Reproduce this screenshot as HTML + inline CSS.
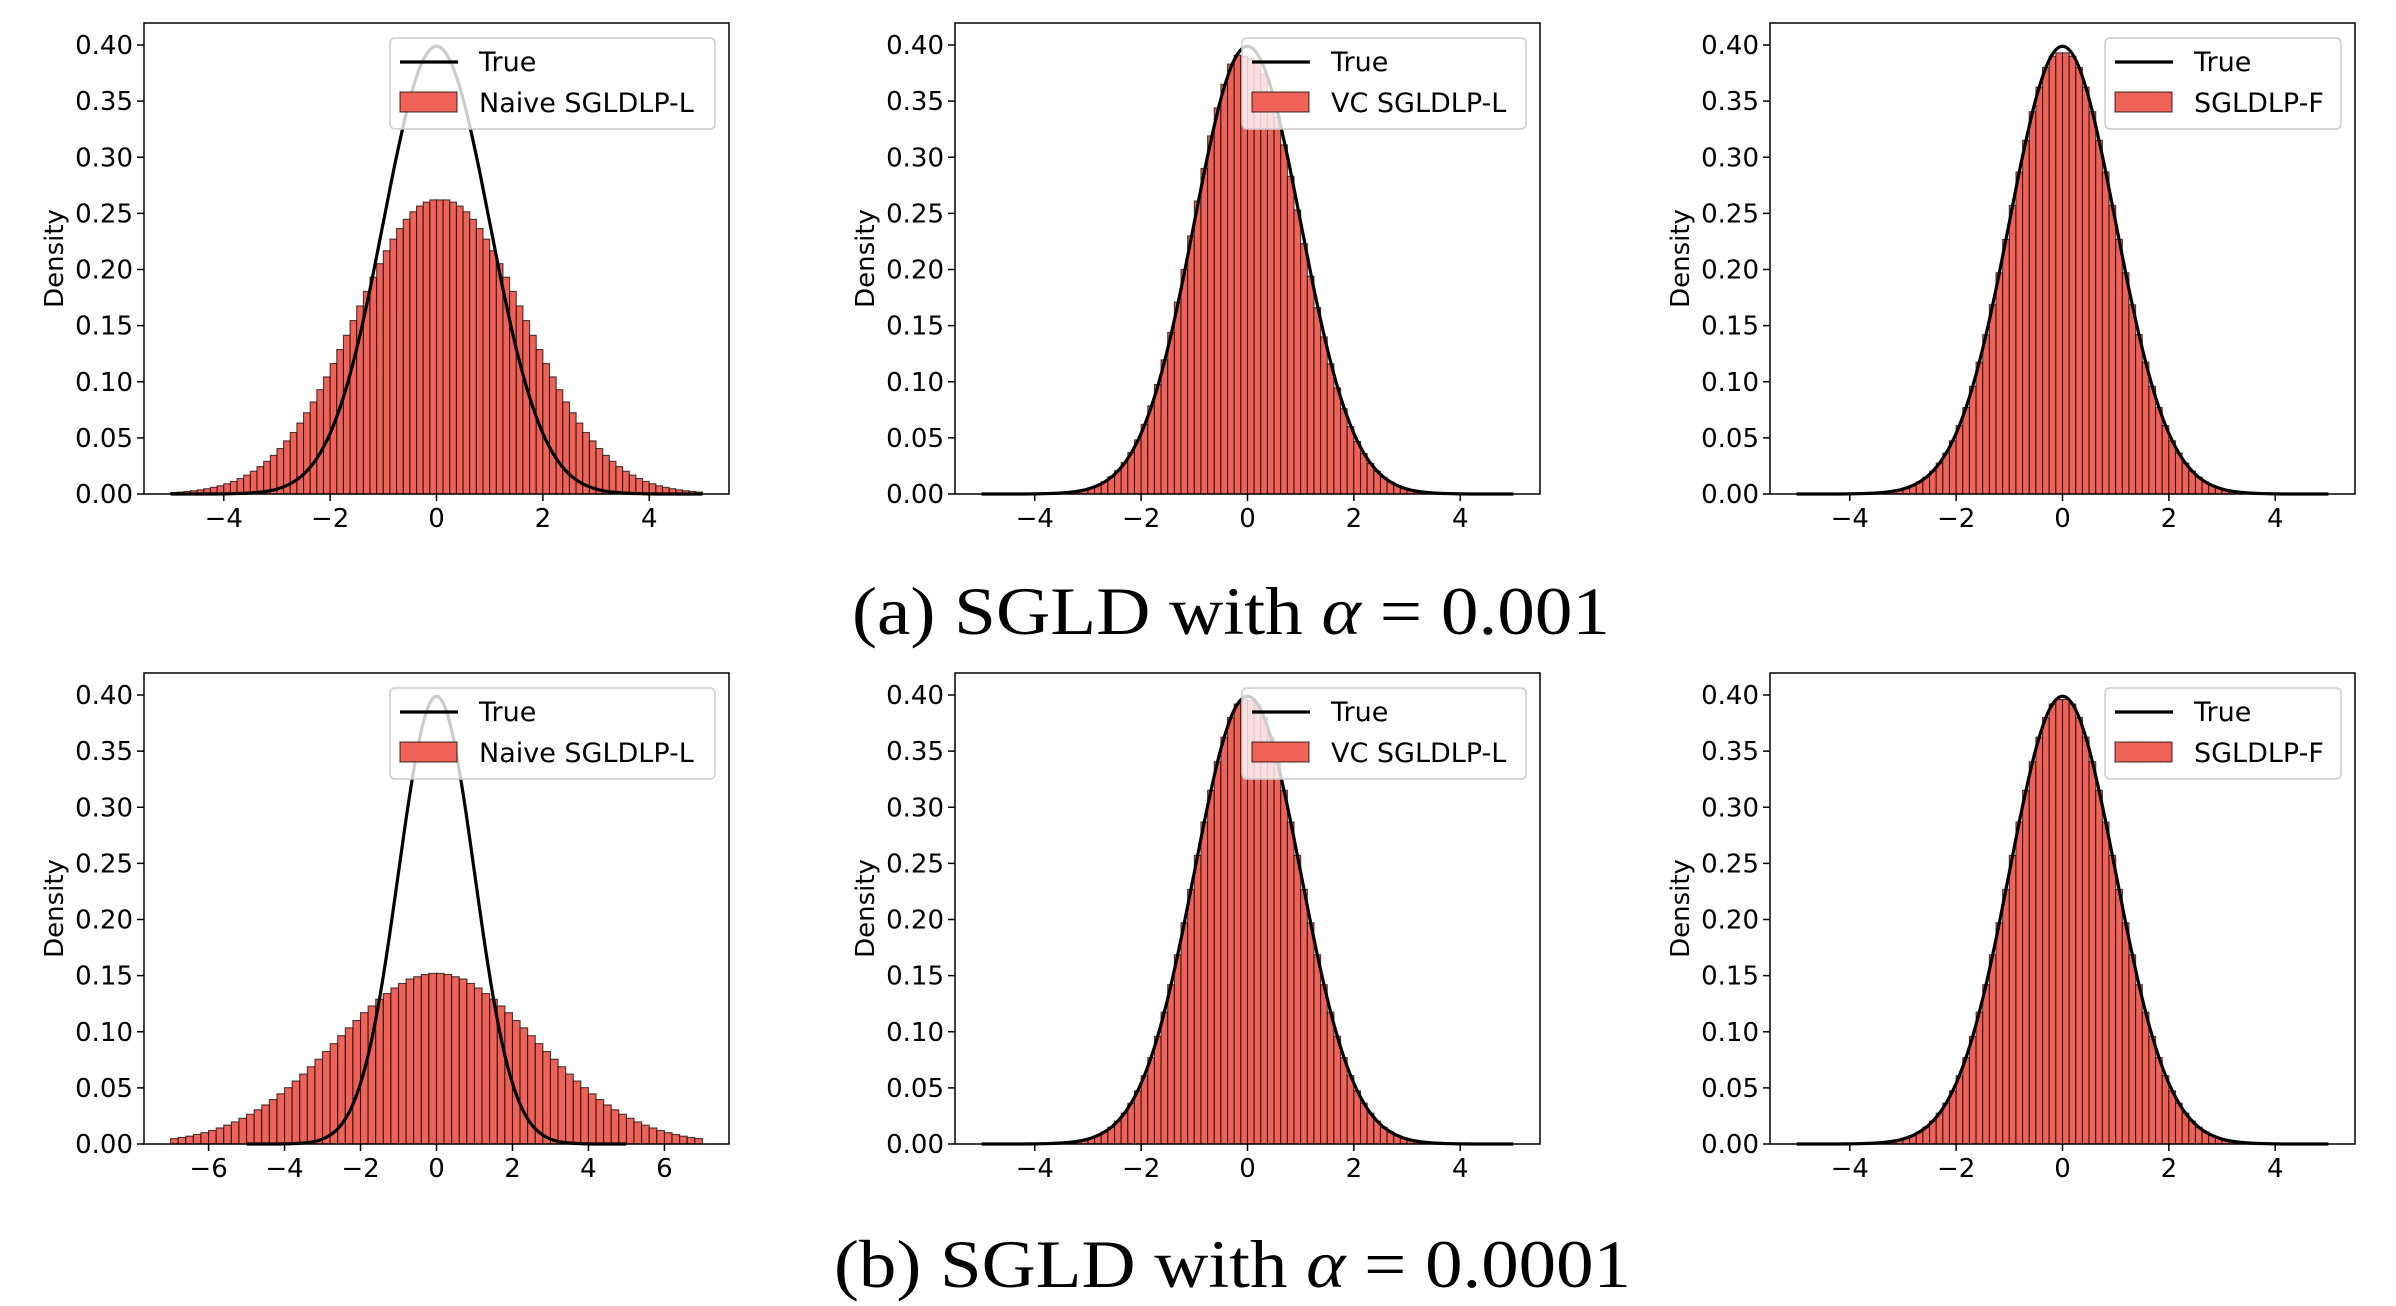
<!DOCTYPE html>
<html><head><meta charset="utf-8">
<style>
html,body{margin:0;padding:0;background:#fff;}
svg{display:block;}
</style></head>
<body>
<svg id="fig" width="2396" height="1306" viewBox="0 0 2396 1306" xmlns="http://www.w3.org/2000/svg">
  <text x="852" y="634" font-family="Liberation Serif, serif" font-size="68" fill="#000" textLength="758" lengthAdjust="spacingAndGlyphs">(a) SGLD with <tspan font-style="italic">α</tspan> = 0.001</text>
  <text x="834" y="1287" font-family="Liberation Serif, serif" font-size="68" fill="#000" textLength="797" lengthAdjust="spacingAndGlyphs">(b) SGLD with <tspan font-style="italic">α</tspan> = 0.0001</text>
</svg>
<script>
// ---- data ----
const yTicks = [0, 0.05, 0.10, 0.15, 0.20, 0.25, 0.30, 0.35, 0.40];
const yTickLabels = ["0.00","0.05","0.10","0.15","0.20","0.25","0.30","0.35","0.40"];
const xTicksNarrow = [-4, -2, 0, 2, 4];
const xTicksWide = [-6, -4, -2, 0, 2, 4, 6];
const seriesLabelTrue = "True";
const histLabels = ["Naive SGLDLP-L", "VC SGLDLP-L", "SGLDLP-F", "Naive SGLDLP-L", "VC SGLDLP-L", "SGLDLP-F"];

// true density sampled from -5 to 5 in steps of 0.25
const trueXStart = -5, trueXStep = 0.25;
const trueY = [0,0,0,0,0.0001,0.0004,0.0009,0.0020,0.0044,0.0091,0.0175,0.0317,0.0540,0.0863,0.1295,0.1826,0.2420,0.3011,0.3521,0.3867,0.3989,0.3867,0.3521,0.3011,0.2420,0.1826,0.1295,0.0863,0.0540,0.0317,0.0175,0.0091,0.0044,0.0020,0.0009,0.0004,0.0001,0,0,0,0];

// histogram: naive (a), 80 bins from -5, width 0.125
const naiveAStart = -5, naiveAWidth = 0.125;
const naiveA = [0.0013,0.0017,0.0023,0.0029,0.0037,0.0047,0.0059,0.0073,0.0091,0.0112,0.0138,0.0168,0.0203,0.0244,0.0291,0.0344,0.0405,0.0473,0.0548,0.0632,0.0724,0.0820,0.0929,0.1043,0.1162,0.1287,0.1414,0.1545,0.1675,0.1805,0.1931,0.2052,0.2167,0.2271,0.2365,0.2447,0.2514,0.2565,0.2600,0.2620,0.2620,0.2620,0.2600,0.2565,0.2514,0.2447,0.2365,0.2271,0.2167,0.2052,0.1931,0.1805,0.1675,0.1545,0.1414,0.1287,0.1162,0.1043,0.0929,0.0820,0.0724,0.0632,0.0548,0.0473,0.0405,0.0344,0.0291,0.0244,0.0203,0.0168,0.0138,0.0112,0.0091,0.0073,0.0059,0.0047,0.0037,0.0029,0.0023,0.0017];

// histograms: standard-ish normal, 80 bins from -5, width 0.125
const fineStart = -5, fineWidth = 0.125;
const vcA = [0,0,0,0,0,0,0.0001,0.0001,0.0002,0.0003,0.0005,0.0007,0.0011,0.0017,0.0026,0.0038,0.0055,0.0078,0.0110,0.0153,0.0208,0.0280,0.0370,0.0482,0.0620,0.0785,0.0975,0.1195,0.1440,0.1710,0.2000,0.2300,0.2610,0.2900,0.3190,0.3440,0.3650,0.3830,0.3910,0.3900,0.3880,0.3860,0.3740,0.3580,0.3360,0.3110,0.2830,0.2530,0.2230,0.1940,0.1660,0.1400,0.1160,0.0945,0.0760,0.0600,0.0468,0.0360,0.0272,0.0202,0.0148,0.0107,0.0075,0.0052,0.0036,0.0025,0.0017,0.0011,0.0007,0.0005,0.0003,0.0002,0.0001,0.0001,0,0,0,0,0,0];
const fA = [0,0,0,0,0,0,0.0001,0.0001,0.0002,0.0003,0.0005,0.0007,0.0011,0.0017,0.0025,0.0037,0.0053,0.0076,0.0108,0.0150,0.0204,0.0275,0.0364,0.0474,0.0609,0.0770,0.0959,0.1175,0.1419,0.1686,0.1971,0.2268,0.2571,0.2869,0.3151,0.3406,0.3625,0.3800,0.3900,0.3930,0.3930,0.3900,0.3799,0.3625,0.3406,0.3151,0.2869,0.2571,0.2268,0.1971,0.1686,0.1419,0.1175,0.0959,0.0770,0.0609,0.0474,0.0364,0.0275,0.0204,0.0150,0.0108,0.0076,0.0053,0.0037,0.0025,0.0017,0.0011,0.0007,0.0005,0.0003,0.0002,0.0001,0.0001,0,0,0,0,0,0];
const vcB = [0,0,0,0,0,0,0.0001,0.0001,0.0002,0.0003,0.0005,0.0007,0.0011,0.0017,0.0025,0.0037,0.0053,0.0076,0.0108,0.0150,0.0204,0.0275,0.0364,0.0474,0.0609,0.0770,0.0959,0.1175,0.1419,0.1686,0.1971,0.2268,0.2571,0.2869,0.3151,0.3406,0.3625,0.3799,0.3920,0.3960,0.3950,0.3910,0.3799,0.3625,0.3406,0.3151,0.2869,0.2571,0.2268,0.1971,0.1686,0.1419,0.1175,0.0959,0.0770,0.0609,0.0474,0.0364,0.0275,0.0204,0.0150,0.0108,0.0076,0.0053,0.0037,0.0025,0.0017,0.0011,0.0007,0.0005,0.0003,0.0002,0.0001,0.0001,0,0,0,0,0,0];
const fB = [0,0,0,0,0,0,0.0001,0.0001,0.0002,0.0003,0.0005,0.0007,0.0011,0.0017,0.0025,0.0037,0.0053,0.0076,0.0108,0.0150,0.0204,0.0275,0.0364,0.0474,0.0609,0.0770,0.0959,0.1175,0.1419,0.1686,0.1971,0.2268,0.2571,0.2869,0.3151,0.3406,0.3625,0.3799,0.3920,0.3960,0.3960,0.3920,0.3799,0.3625,0.3406,0.3151,0.2869,0.2571,0.2268,0.1971,0.1686,0.1419,0.1175,0.0959,0.0770,0.0609,0.0474,0.0364,0.0275,0.0204,0.0150,0.0108,0.0076,0.0053,0.0037,0.0025,0.0017,0.0011,0.0007,0.0005,0.0003,0.0002,0.0001,0.0001,0,0,0,0,0,0];

// histogram: naive (b), 70 bins from -7, width 0.2
const naiveBStart = -7, naiveBWidth = 0.2;
const naiveB = [0.0048,0.0058,0.0070,0.0085,0.0101,0.0120,0.0143,0.0168,0.0197,0.0229,0.0265,0.0305,0.0348,0.0396,0.0447,0.0502,0.0561,0.0623,0.0688,0.0755,0.0824,0.0894,0.0965,0.1035,0.110,0.117,0.123,0.129,0.134,0.139,0.143,0.147,0.149,0.151,0.152,0.152,0.151,0.149,0.147,0.143,0.139,0.134,0.129,0.123,0.117,0.110,0.1035,0.0965,0.0894,0.0824,0.0755,0.0688,0.0623,0.0561,0.0502,0.0447,0.0396,0.0348,0.0305,0.0265,0.0229,0.0197,0.0168,0.0143,0.0120,0.0101,0.0085,0.0070,0.0058,0.0048];

// ---- drawing ----
const NS = "http://www.w3.org/2000/svg";
const svg = document.getElementById("fig");
const W = 585, H = 471, YMAX = 0.4196;
const FONT = "DejaVu Sans, Liberation Sans, sans-serif";

function mk(tag, attrs, parent) {
  const e = document.createElementNS(NS, tag);
  for (const k in attrs) e.setAttribute(k, attrs[k]);
  parent.appendChild(e);
  return e;
}
function fmtTick(v) { return v < 0 ? "\u2212" + Math.abs(v) : String(v); }

function drawPanel(idx, ox, oy, xmin, xmax, xticks, hStart, hWidth, hVals, legendW) {
  const g = mk("g", {}, svg);
  
  
  const sx = v => ox + (v - xmin) / (xmax - xmin) * W;
  const sy = v => oy + H - v / YMAX * H;

  const bars = mk("g", {}, g);
  
  
  hVals.forEach((v, i) => {
    const x0 = sx(hStart + i * hWidth), x1 = sx(hStart + (i + 1) * hWidth);
    const r = mk("rect", {x: x0, y: sy(v), width: x1 - x0, height: sy(0) - sy(v),
      fill: "#ef6257", stroke: "#000", "stroke-opacity": "0.7", "stroke-width": "1.1"}, bars);
    
    
  });

  const pts = trueY.map((v, i) => [sx(trueXStart + i * trueXStep), sy(v)]);
  let d = "M" + pts[0][0] + "," + pts[0][1];
  for (let i = 0; i < pts.length - 1; i++) {
    const p0 = pts[Math.max(0, i - 1)], p1 = pts[i], p2 = pts[i + 1], p3 = pts[Math.min(pts.length - 1, i + 2)];
    const c1 = [p1[0] + (p2[0] - p0[0]) / 6, p1[1] + (p2[1] - p0[1]) / 6];
    const c2 = [p2[0] - (p3[0] - p1[0]) / 6, p2[1] - (p3[1] - p1[1]) / 6];
    d += " C" + c1[0] + "," + c1[1] + " " + c2[0] + "," + c2[1] + " " + p2[0] + "," + p2[1];
  }
  const curve = mk("path", {d: d, fill: "none", stroke: "#000", "stroke-width": "3.2", "stroke-linejoin": "round"}, g);
  
  

  const frame = mk("rect", {x: ox, y: oy, width: W, height: H, fill: "none", stroke: "#000", "stroke-width": "1.5"}, g);
  
  

  const yax = mk("g", {}, g);
  
  
  yTicks.forEach((v, i) => {
    const y = sy(v);
    mk("line", {x1: ox - 7, x2: ox, y1: y, y2: y, stroke: "#000", "stroke-width": "1.5"}, yax);
    const t = mk("text", {x: ox - 11, y: y + 9, "text-anchor": "end", "font-family": FONT, "font-size": "26", fill: "#000"}, yax);
    
    
    t.textContent = yTickLabels[i];
  });
  const yl = mk("text", {x: 0, y: 0, "text-anchor": "middle", "font-family": FONT, "font-size": "26", fill: "#000",
    transform: "translate(" + (ox - 81) + "," + (oy + H / 2) + ") rotate(-90)"}, g);
  
  
  yl.textContent = "Density";

  const xax = mk("g", {}, g);
  
  
  xticks.forEach(v => {
    const x = sx(v);
    mk("line", {x1: x, x2: x, y1: oy + H, y2: oy + H + 7, stroke: "#000", "stroke-width": "1.5"}, xax);
    const t = mk("text", {x: x, y: oy + H + 33, "text-anchor": "middle", "font-family": FONT, "font-size": "26", fill: "#000"}, xax);
    
    
    t.textContent = fmtTick(v);
  });

  const lx = ox + W - 14 - legendW, ly = oy + 15;
  const leg = mk("g", {}, g);
  
  
  mk("rect", {x: lx, y: ly, width: legendW, height: 91, rx: 5, fill: "#fff", "fill-opacity": "0.8", stroke: "#ccc", "stroke-width": "1.5"}, leg);
  mk("line", {x1: lx + 10, x2: lx + 68, y1: ly + 24, y2: ly + 24, stroke: "#000", "stroke-width": "3.2"}, leg);
  const t1 = mk("text", {x: lx + 89, y: ly + 33, "font-family": FONT, "font-size": "27", fill: "#000"}, leg);
  
  
  t1.textContent = seriesLabelTrue;
  mk("rect", {x: lx + 10, y: ly + 54, width: 57, height: 20, fill: "#ef6257", stroke: "#000", "stroke-opacity": "0.7", "stroke-width": "1.1"}, leg);
  const t2 = mk("text", {x: lx + 89, y: ly + 74, "font-family": FONT, "font-size": "27", fill: "#000"}, leg);
  
  
  t2.textContent = histLabels[idx];
}

drawPanel(0, 144, 23, -5.5, 5.5, xTicksNarrow, naiveAStart, naiveAWidth, naiveA, 325);
drawPanel(1, 955, 23, -5.5, 5.5, xTicksNarrow, fineStart, fineWidth, vcA, 284);
drawPanel(2, 1770, 23, -5.5, 5.5, xTicksNarrow, fineStart, fineWidth, fA, 236);
drawPanel(3, 144, 673, -7.7, 7.7, xTicksWide, naiveBStart, naiveBWidth, naiveB, 325);
drawPanel(4, 955, 673, -5.5, 5.5, xTicksNarrow, fineStart, fineWidth, vcB, 284);
drawPanel(5, 1770, 673, -5.5, 5.5, xTicksNarrow, fineStart, fineWidth, fB, 236);
</script>
</body></html>
